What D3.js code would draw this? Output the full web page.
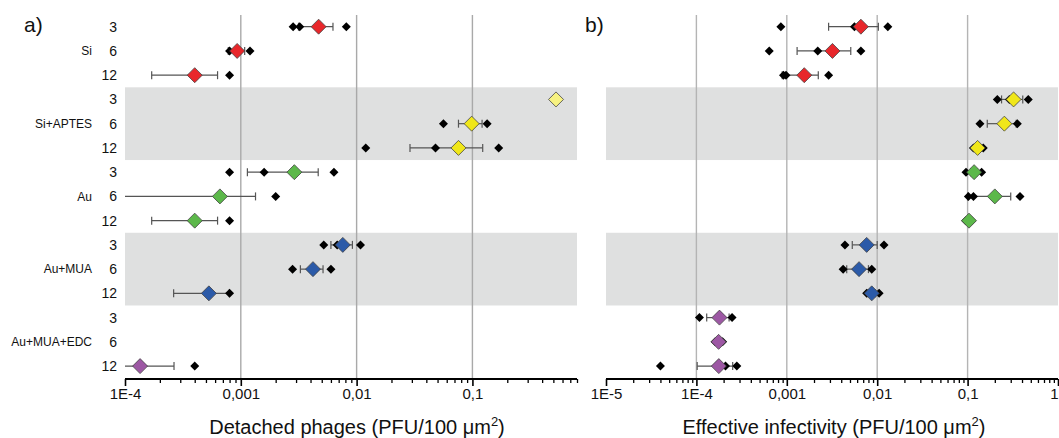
<!DOCTYPE html>
<html>
<head>
<meta charset="utf-8">
<script src="https://cdn.jsdelivr.net/npm/d3@7/dist/d3.min.js"></script>
<style>
  body { margin: 0; background: #fff; }
  text { font-family: "Liberation Sans", Arial, sans-serif; fill: #111; }
</style>
</head>
<body>
<script>
(function() {
    'use strict';

    // rows: 5 surfaces x 3 times (h)
    var groups = ["Si", "Si+APTES", "Au", "Au+MUA", "Au+MUA+EDC"];
    var times = ["3", "6", "12"];

    // a) detached phages
    var detachedMean = [0.0047, 0.00093, 0.0004,
                        0.527, 0.0985, 0.0758,
                        0.0029, 0.00066, 0.0004,
                        0.0076, 0.0042, 0.00053,
                        null, null, 0.000135];
    var detachedSd = [0.00155, 0.00015, 0.00023,
                      null, 0.0227, 0.0469,
                      0.00176, 0.00068, 0.00023,
                      0.0016, 0.00093, 0.000267,
                      null, null, 0.00013];
    var detachedPoints = [[0.00283, 0.00323, 0.00815], [0.0008, 0.0012], [0.0008],
                          [], [0.0562, 0.134], [0.012, 0.048, 0.1686],
                          [0.0008, 0.00159, 0.00637], [0.002], [0.0008],
                          [0.0052, 0.0068, 0.0108], [0.0028, 0.006], [0.0008],
                          [], [], [0.0004]];

    // b) effective infectivity
    var infectMean = [0.0066, 0.0032, 0.00156,
                      0.3225, 0.255, 0.129,
                      0.118, 0.2, 0.1036,
                      0.00765, 0.0063, 0.0087,
                      0.00018, 0.000176, 0.000177];
    var infectSd = [0.0037, 0.0019, 0.00067,
                    0.085, 0.09, 0.012,
                    0.01, 0.1, 0.005,
                    0.00235, 0.0017, 0.0008,
                    0.00005, 0.00001, 0.000075];
    var infectPoints = [[0.00086, 0.0056, 0.0131], [0.00064, 0.0022, 0.0066], [0.00092, 0.00098, 0.0029],
                        [0.213, 0.29, 0.469], [0.137, 0.27, 0.355], [0.116, 0.125, 0.149],
                        [0.096, 0.115, 0.143], [0.102, 0.116, 0.38], [0.0953, 0.105, 0.111],
                        [0.0044, 0.0073, 0.0119], [0.0042, 0.0059, 0.0087], [0.00765, 0.0082, 0.0105],
                        [0.000108, 0.00018, 0.000248], [0.000161, 0.000175, 0.000195], [0.00004, 0.00021, 0.00028]];

    var leftTicks = [1e-4, 1e-3, 1e-2, 1e-1];
    var leftTickLabels = ["1E-4", "0,001", "0,01", "0,1"];
    var rightTicks = [1e-5, 1e-4, 1e-3, 1e-2, 1e-1, 1];
    var rightTickLabels = ["1E-5", "1E-4", "0,001", "0,01", "0,1", "1"];

    var groupColors = ["#e8272b", "#f0e71a", "#5cb84a", "#2b5aa8", "#9d58a4"];

    var W = 1059, H = 438;
    var axisY = 379, topY = 15;

    var svg = d3.select("body").append("svg")
                .attr("width", W)
                .attr("height", H);

    var rowKeys = d3.range(groups.length * times.length);
    var y = d3.scalePoint().domain(rowKeys).range([26.7, 366.1]);
    var step = y.step();

    // row labels (left side only)
    var rowLabels = svg.append("g");
    rowKeys.forEach(function(i) {
        rowLabels.append("text")
                 .attr("x", 117)
                 .attr("y", y(i))
                 .attr("dy", "0.35em")
                 .attr("text-anchor", "end")
                 .style("font-size", "14px")
                 .text(times[i % 3]);
    });
    groups.forEach(function(g, gi) {
        rowLabels.append("text")
                 .attr("x", 92)
                 .attr("y", y(gi * 3 + 1))
                 .attr("dy", "0.35em")
                 .attr("text-anchor", "end")
                 .style("font-size", "12px")
                 .text(g);
    });

    function diamond(r) {
        return "M0," + (-r) + "L" + r + ",0L0," + r + "L" + (-r) + ",0Z";
    }

    function drawPanel(p) {
        var x = d3.scaleLog().domain(p.domain).range([p.x0, p.x1]);
        var g = svg.append("g");

        // grey bands for Si+APTES and Au+MUA
        [1, 3].forEach(function(gi) {
            g.append("rect")
             .attr("x", p.x0)
             .attr("y", y(gi * 3) - step / 2)
             .attr("width", p.x1 - p.x0)
             .attr("height", step * 3)
             .attr("fill", "#dfe0e0");
        });

        // vertical grid lines
        g.selectAll(".grid")
         .data(p.grid)
         .enter()
         .append("line")
         .attr("x1", function(d) { return x(d); })
         .attr("x2", function(d) { return x(d); })
         .attr("y1", topY)
         .attr("y2", axisY)
         .attr("stroke", p.gridColor)
         .attr("stroke-width", 1.4);

        // minor ticks
        var minor = [];
        var lo = Math.round(Math.log10(p.domain[0]));
        var hi = Math.ceil(Math.log10(p.domain[1]));
        for (var e = lo; e < hi; e++) {
            for (var k = 2; k <= 9; k++) {
                var v = k * Math.pow(10, e);
                if (v <= p.domain[1]) { minor.push(v); }
            }
        }
        g.append("g")
         .attr("transform", "translate(0," + axisY + ")")
         .call(d3.axisBottom(x).tickValues(minor).tickSize(4).tickFormat(""))
         .call(function(s) { s.select(".domain").remove(); })
         .selectAll("line").attr("stroke", "#000").attr("stroke-width", 1.3);

        var ax = g.append("g")
                  .attr("transform", "translate(0," + axisY + ")")
                  .call(d3.axisBottom(x)
                          .tickValues(p.ticks)
                          .tickSize(7)
                          .tickPadding(2)
                          .tickFormat(function(d, i) { return p.tickLabels[i]; }));
        ax.select(".domain").attr("stroke", "#000").attr("stroke-width", 2)
          .attr("d", "M" + p.x0 + ",0H" + p.x1);
        ax.selectAll("line").attr("stroke", "#000").attr("stroke-width", 1.6);
        ax.selectAll("text")
          .style("font-size", "15px")
          .style("font-family", "'Liberation Sans', Arial, sans-serif")
          .attr("fill", "#111")
          .attr("text-anchor", function(d) { return x(d) > W - 8 ? "end" : "middle"; });

        // axis title
        var t = g.append("text")
                 .attr("x", (p.x0 + p.x1) / 2 + p.titleShift)
                 .attr("y", 434)
                 .attr("text-anchor", "middle")
                 .style("font-size", "20px");
        t.append("tspan").text(p.title + " (PFU/100 \u03bcm");
        t.append("tspan").attr("dy", -8).style("font-size", "13px").text("2");
        t.append("tspan").attr("dy", 8).text(")");

        // panel letter
        svg.append("text")
           .attr("x", p.letterX)
           .attr("y", 32)
           .style("font-size", "21px")
           .text(p.letter);

        // error bars
        var capH = 4;
        rowKeys.forEach(function(i) {
            var m = p.mean[i], sd = p.sd[i];
            if (m === null || sd === null) { return; }
            var yy = y(i);
            var loV = m - sd, hiV = m + sd;
            var clipped = loV <= p.domain[0];
            var xl = clipped ? p.x0 : x(loV);
            var xh = x(hiV);
            g.append("line")
             .attr("x1", xl).attr("x2", xh)
             .attr("y1", yy).attr("y2", yy)
             .attr("stroke", "#555").attr("stroke-width", 1.2);
            if (!clipped) {
                g.append("line")
                 .attr("x1", xl).attr("x2", xl)
                 .attr("y1", yy - capH).attr("y2", yy + capH)
                 .attr("stroke", "#555").attr("stroke-width", 1.2);
            }
            g.append("line")
             .attr("x1", xh).attr("x2", xh)
             .attr("y1", yy - capH).attr("y2", yy + capH)
             .attr("stroke", "#555").attr("stroke-width", 1.2);
        });

        // individual values
        rowKeys.forEach(function(i) {
            g.selectAll(null)
             .data(p.points[i])
             .enter()
             .append("path")
             .attr("d", diamond(4.5))
             .attr("transform", function(d) {
                 return "translate(" + x(d) + "," + y(i) + ")";
             })
             .attr("fill", "#000");
        });

        // means
        rowKeys.forEach(function(i) {
            var m = p.mean[i];
            if (m === null) { return; }
            var col = groupColors[Math.floor(i / 3)];
            if (p.sd[i] === null) {
                col = d3.interpolateRgb(col, "#ffffff")(0.45);
            }
            g.append("path")
             .attr("d", diamond(7.5))
             .attr("transform", "translate(" + x(m) + "," + y(i) + ")")
             .attr("fill", col)
             .attr("stroke", "#444")
             .attr("stroke-width", 0.8);
        });
    }

    drawPanel({
        domain: [1e-4, 0.8], x0: 125, x1: 577,
        grid: [1e-3, 1e-2, 1e-1], gridColor: "#a9a9a9",
        ticks: leftTicks, tickLabels: leftTickLabels,
        mean: detachedMean, sd: detachedSd, points: detachedPoints,
        title: "Detached phages", titleShift: 6,
        letter: "a)", letterX: 24
    });

    drawPanel({
        domain: [1e-5, 1], x0: 606, x1: 1058,
        grid: [1e-4, 1e-3, 1e-2, 1e-1], gridColor: "#b4b4b4",
        ticks: rightTicks, tickLabels: rightTickLabels,
        mean: infectMean, sd: infectSd, points: infectPoints,
        title: "Effective infectivity", titleShift: 2,
        letter: "b)", letterX: 585
    });
}());
</script>
</body>
</html>
